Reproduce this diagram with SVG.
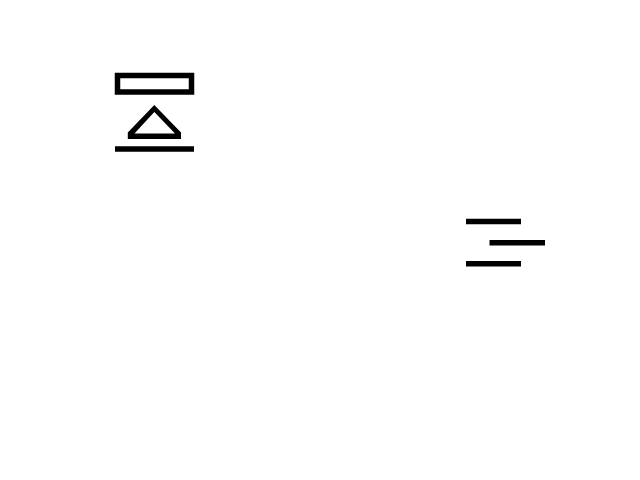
<svg xmlns="http://www.w3.org/2000/svg" width="640" height="480" viewBox="0 0 640 480">
<style>.s{fill:none;stroke:#000;stroke-width:5.500}</style>
<rect width="640" height="480" fill="#fff"/>
<g id="symbol-left">
<rect class="s" x="117.500" y="75.500" width="74" height="16.500"/>
<path fill="#000" fill-rule="evenodd" d="M154.300 105L181 132.500V139H127.800V132.500ZM154.300 112L134.500 133.500H175Z"/>
<path class="s" d="M115 149H194"/>
</g>
<g id="symbol-right">
<path class="s" d="M466 221.500H521M489.500 242.700H545M466 263.800H521"/>
</g>
</svg>
